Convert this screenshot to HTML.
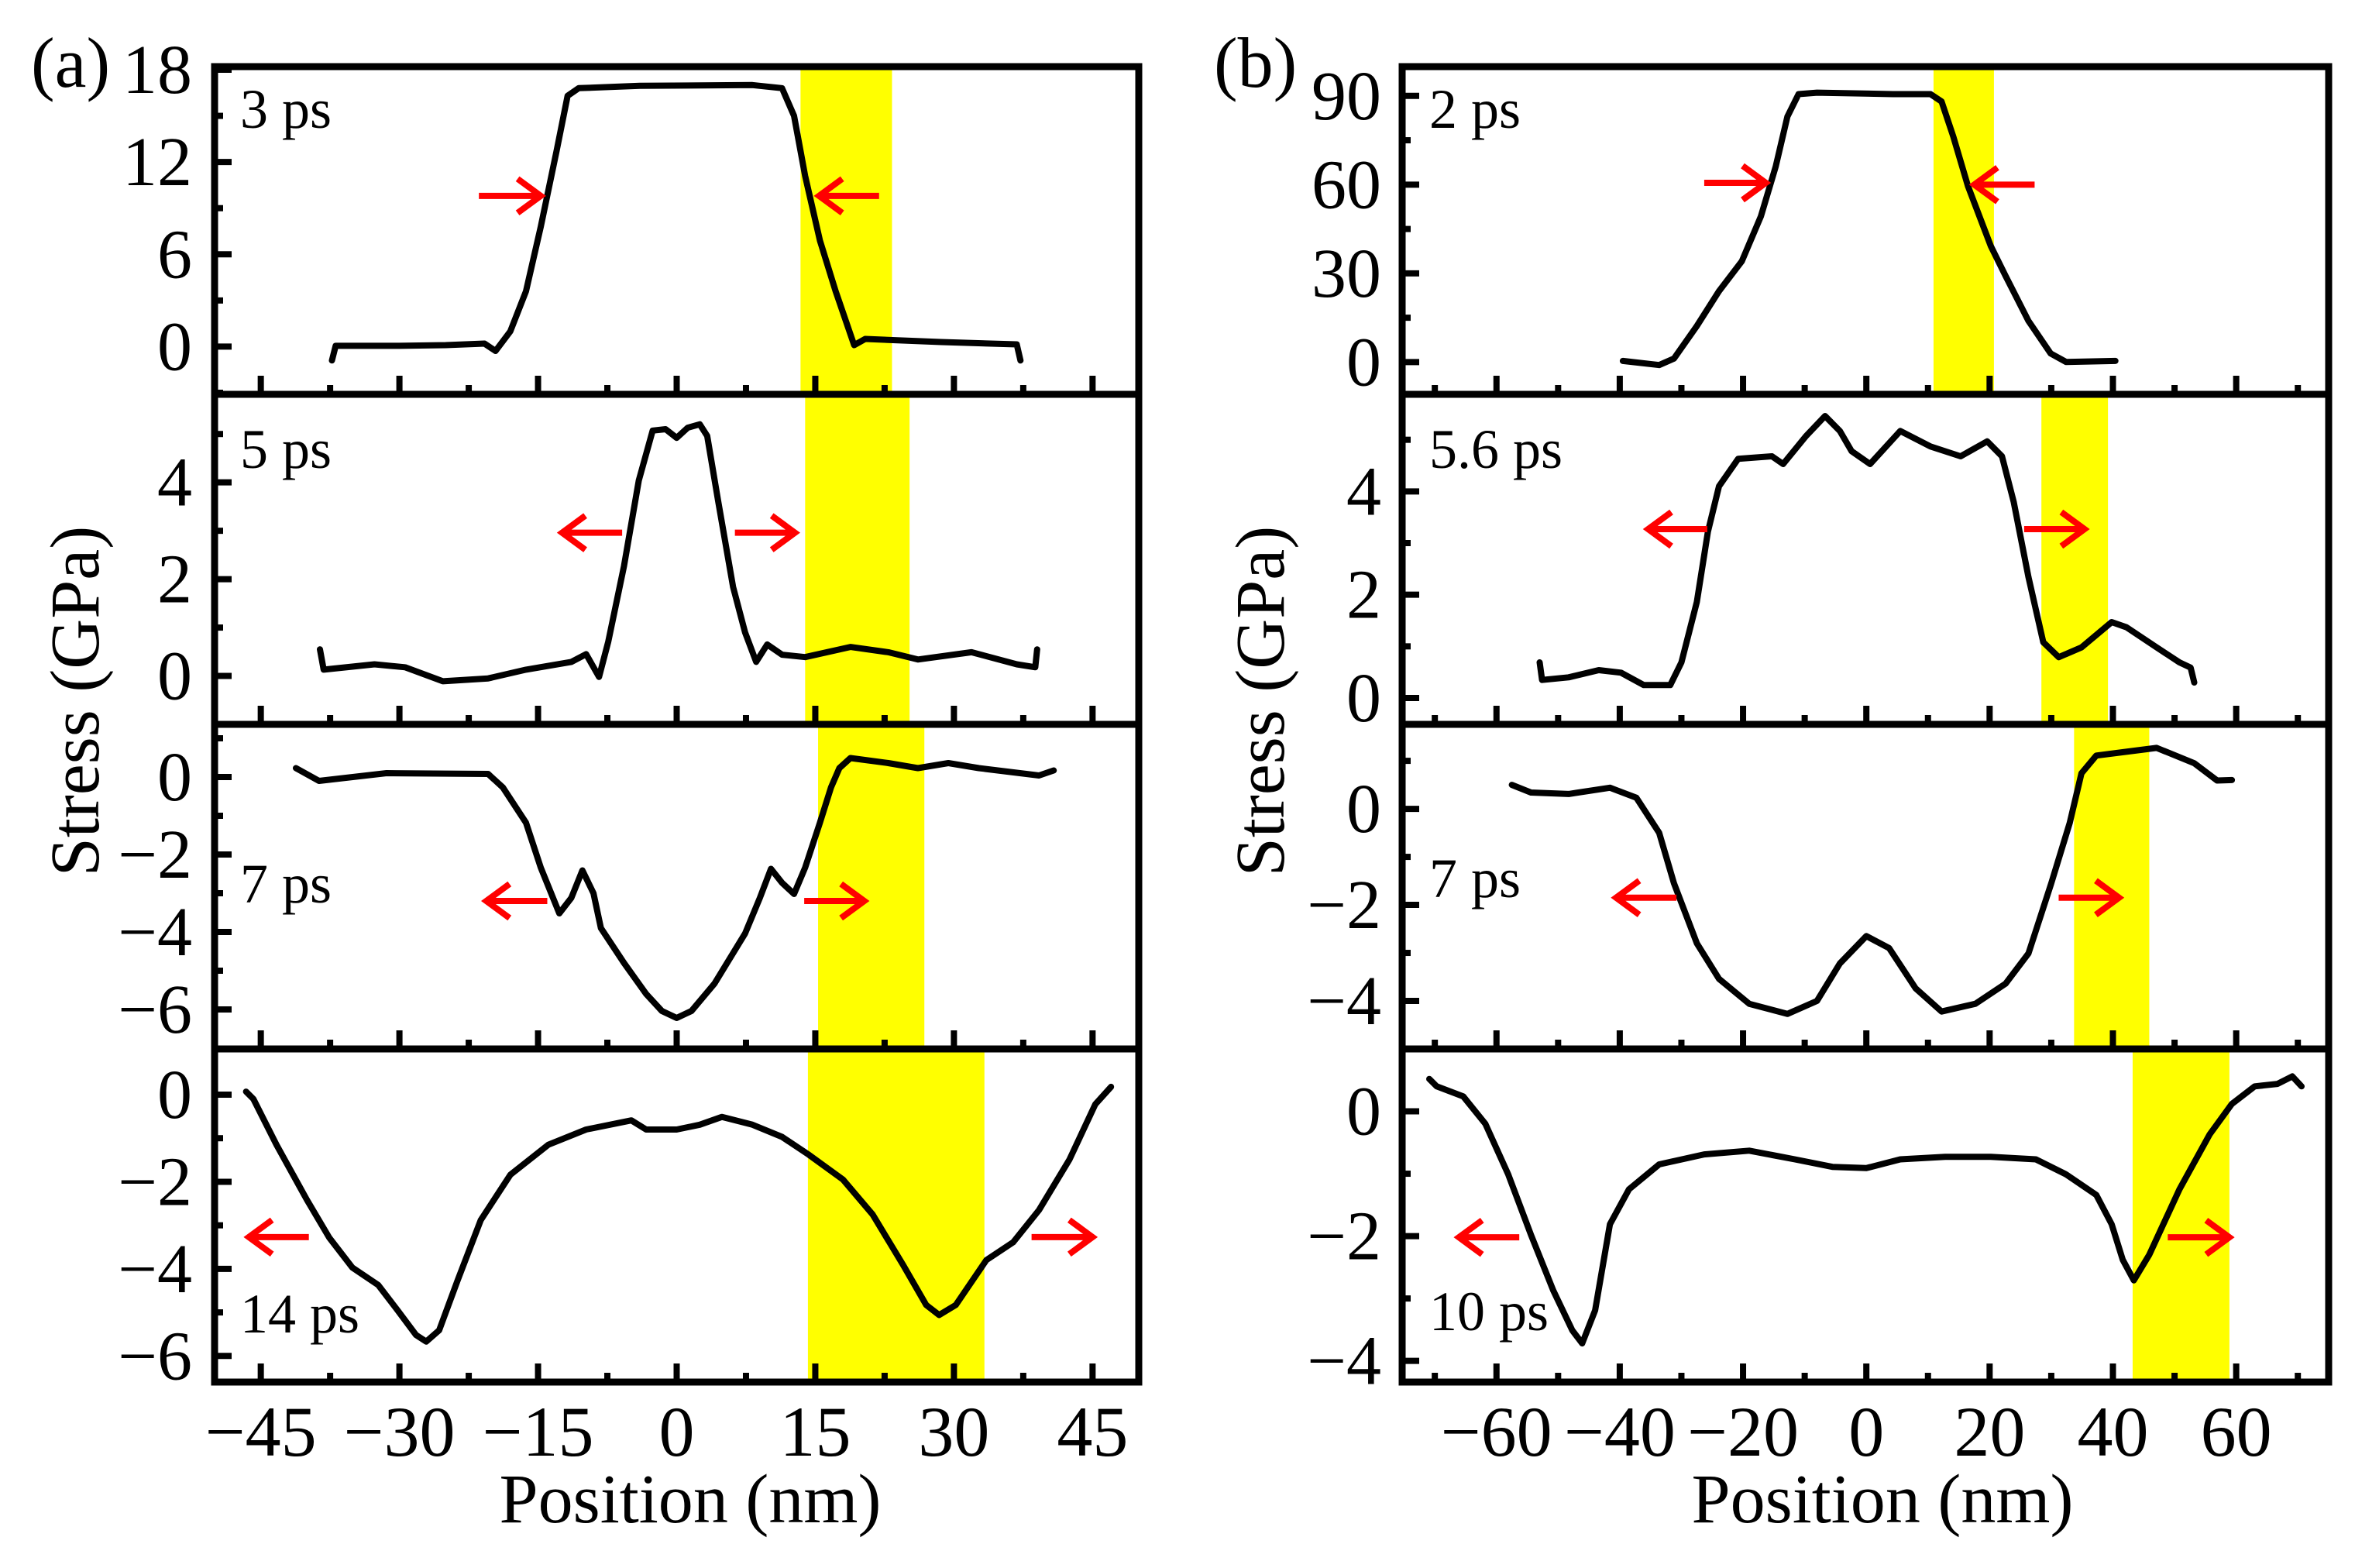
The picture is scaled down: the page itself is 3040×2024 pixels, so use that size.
<!DOCTYPE html>
<html><head><meta charset="utf-8"><style>
html,body{margin:0;padding:0;background:#fff;}
svg{display:block;font-family:"Liberation Serif",serif;}
</style></head><body>
<svg id="fig" width="3040" height="2024" viewBox="0 0 3040 2024" xmlns="http://www.w3.org/2000/svg"></svg>
<script>
// ---------- data (position nm, stress GPa) ----------
const a3x=[-37.3,-36.9,-30,-25,-20.8,-19.6,-18,-16.3,-14.7,-13,-11.8,-10.6,-4,8.2,11.4,12.7,13.9,15.5,17.2,19.2,20.4,28.6,36.8,37.2];
const a3y=[-0.9,0.05,0.05,0.1,0.2,-0.28,1.0,3.6,7.8,12.7,16.3,16.8,16.95,17.0,16.8,15.0,11.1,6.9,3.6,0.1,0.5,0.3,0.15,-0.9];
const a5x=[-38.6,-38.2,-32.7,-29.4,-25.3,-20.4,-16.3,-11.4,-9.8,-8.4,-7.4,-5.7,-4.1,-2.6,-1.2,0,1.2,2.5,3.3,4.5,6.1,7.4,8.6,9.8,11.4,13.9,18.8,22.9,26.1,31.9,36.8,38.8,39];
const a5y=[0.55,0.13,0.24,0.18,-0.11,-0.05,0.13,0.29,0.45,-0.02,0.71,2.27,4.04,5.07,5.1,4.92,5.13,5.2,4.96,3.6,1.84,0.9,0.29,0.65,0.44,0.39,0.6,0.49,0.34,0.49,0.24,0.18,0.55];
const a7x=[-41.2,-38.7,-31.4,-20.4,-18.8,-16.3,-14.7,-12.7,-11.4,-10.2,-9,-8.2,-5.7,-3.3,-1.6,0,1.6,4.1,7.4,9,10.2,11.4,12.7,13.9,15.5,16.7,17.6,18.8,22.9,26.1,29.4,32.7,39.2,40.8];
const a7y=[0.23,-0.1,0.1,0.08,-0.27,-1.18,-2.34,-3.52,-3.12,-2.41,-3.0,-3.9,-4.8,-5.6,-6.04,-6.22,-6.04,-5.33,-4.04,-3.12,-2.37,-2.73,-3.02,-2.34,-1.18,-0.27,0.23,0.49,0.36,0.23,0.36,0.23,0.04,0.17];
const a14x=[-46.6,-45.8,-43.3,-40,-37.6,-35.1,-32.3,-30.2,-28.2,-27.1,-25.7,-23.7,-21.2,-18,-13.9,-9.8,-4.9,-3.3,0,2.5,4.9,8.2,11.4,14.3,18,21.2,24.5,27,28.4,30.2,33.5,36.4,39.2,42.5,45.3,47];
const a14y=[0.07,-0.1,-1.15,-2.42,-3.28,-3.97,-4.37,-4.95,-5.52,-5.67,-5.41,-4.26,-2.88,-1.84,-1.15,-0.8,-0.59,-0.8,-0.8,-0.69,-0.51,-0.69,-0.97,-1.38,-1.95,-2.75,-3.91,-4.83,-5.06,-4.83,-3.8,-3.39,-2.65,-1.49,-0.22,0.18];
const b2x=[-39.5,-33.6,-31.2,-27.5,-23.9,-20.2,-17.1,-14.7,-12.8,-11,-8,4.3,10.4,12.2,14.1,16.5,20.2,22.6,26.3,29.9,32.4,40.4];
const b2y=[0.4,-1.0,1.2,12.2,24,34.1,49.3,66.1,83,90.6,91.1,90.6,90.6,88.1,76.3,59.4,39.2,29.1,13.9,2.9,0.05,0.4];
const b56x=[-53,-52.6,-48.3,-43.4,-39.8,-36.1,-31.8,-30,-27.5,-25.7,-23.9,-20.8,-15.3,-13.5,-9.8,-6.7,-4.3,-2.4,0.6,5.5,10.4,15.3,19.6,22,23.9,26.3,28.7,31.2,34.9,39.8,42.2,47.1,50.8,52.6,53.2];
const b56y=[0.69,0.35,0.4,0.54,0.49,0.25,0.25,0.69,1.86,3.22,4.1,4.63,4.68,4.53,5.07,5.46,5.17,4.78,4.53,5.17,4.87,4.68,4.97,4.68,3.8,2.34,1.08,0.79,0.98,1.47,1.37,0.98,0.69,0.59,0.3];
const b7x=[-57.5,-54.4,-48.3,-41.6,-37.3,-33.6,-31.2,-27.5,-23.9,-19,-12.8,-8,-4.3,0,3.7,8,12.2,17.7,22.6,26.3,30,33,34.9,37.3,43.4,47.1,53.2,56.9,59.3];
const b7y=[0.5,0.34,0.31,0.44,0.23,-0.5,-1.55,-2.8,-3.54,-4.06,-4.27,-4.0,-3.22,-2.65,-2.9,-3.74,-4.22,-4.06,-3.64,-3.01,-1.55,-0.29,0.74,1.11,1.21,1.27,0.95,0.59,0.6];
const b10x=[-70.9,-69.7,-65.4,-61.8,-58.1,-54.4,-50.8,-47.7,-46.1,-44,-41.6,-38.5,-33.6,-26.3,-19,-11.6,-5.5,0,5.5,12.8,20.2,27.5,32.4,37.3,39.8,41.6,43.4,45.9,50.8,55.7,59.3,63,66.7,69.1,70.6];
const b10y=[0.52,0.4,0.24,-0.2,-1.01,-1.98,-2.87,-3.51,-3.72,-3.19,-1.81,-1.25,-0.85,-0.69,-0.63,-0.77,-0.89,-0.91,-0.77,-0.73,-0.73,-0.77,-1.01,-1.34,-1.81,-2.38,-2.71,-2.3,-1.25,-0.37,0.12,0.4,0.44,0.56,0.4];
// highlight bands [start,end] nm
const bandsA=[[13.4,23.3],[13.9,25.2],[15.3,26.8],[14.2,33.3]];
const bandsB=[[10.9,20.7],[28.4,39.2],[33.7,45.9],[43.2,58.9]];
// arrows [x from, x to, y]
const arrowsA=[[[-21.4,-14.7,9.8],[21.9,15.4,9.8]],[[-5.9,-12.4,2.96],[6.3,12.8,2.96]],[[-14,-20.6,-3.2],[13.8,20.3,-3.2]],[[-39.8,-46.3,-3.27],[38.4,45,-3.27]]];
const arrowsB=[[[-26.3,-16.3,60.6],[27.3,17.5,60]],[[-25.8,-35.4,3.27],[25.6,35.4,3.27]],[[-30.8,-40.6,-1.85],[31.2,41,-1.85]],[[-56.3,-66.1,-2.02],[48.9,58.9,-2.02]]];
const timesA=["3 ps","5 ps","7 ps","14 ps"];
const timesB=["2 ps","5.6 ps","7 ps","10 ps"];
const yDomA=[[-3.1,18.2],[-1.0,5.82],[-7.02,1.36],[-6.6,1.05]];
const yDomB=[[-10.9,99.9],[-0.51,5.88],[-5.0,1.76],[-4.34,1.0]];
const yMajA=[[0,6,12,18],[0,2,4],[0,-2,-4,-6],[0,-2,-4,-6]];
const yMinA=[[-3,3,9,15],[1,3,5],[1,-1,-3,-5],[-1,-3,-5]];
const yMajB=[[0,30,60,90],[0,2,4],[0,-2,-4],[0,-2,-4]];
const yMinB=[[15,45,75],[1,3,5],[1,-1,-3],[-1,-3]];
const xMajA=[-45,-30,-15,0,15,30,45];
const xMinA=[-37.5,-22.5,-7.5,7.5,22.5,37.5];
const xMajB=[-60,-40,-20,0,20,40,60];
const xMinB=[-70,-50,-30,-10,10,30,50,70];
const seriesA=[[a3x,a3y],[a5x,a5y],[a7x,a7y],[a14x,a14y]];
const seriesB=[[b2x,b2y],[b56x,b56y],[b7x,b7y],[b10x,b10y]];

const NS="http://www.w3.org/2000/svg";
const svg=document.getElementById('fig');
function mk(tag,attrs,parent){const e=document.createElementNS(NS,tag);for(const k in attrs)e.setAttribute(k,attrs[k]);(parent||svg).appendChild(e);return e;}
const rows=[86,509,935,1354,1784];
function fmt(v){return v<0?"\u2212"+Math.abs(v):String(v);}

function drawPanel(id,L,R,xDom,seriesList,bands,arrows,times,yDoms,yMaj,yMin,xMaj,xMin,tickRight,timeX,timeYoff){
  const sx=v=>L+(v-xDom[0])/(xDom[1]-xDom[0])*(R-L);
  for(let p=0;p<4;p++){
    const T=rows[p],B=rows[p+1],yd=yDoms[p];
    const sy=v=>B-(v-yd[0])/(yd[1]-yd[0])*(B-T);
    const g=mk('g',{});
    
    
    const bd=mk('rect',{x:sx(bands[p][0]),y:T,width:sx(bands[p][1])-sx(bands[p][0]),height:B-T,fill:'#ffff00'},g);
    
    
    const xs=seriesList[p][0],ys=seriesList[p][1];
    let d='';for(let i=0;i<xs.length;i++)d+=(i?'L':'M')+sx(xs[i]).toFixed(1)+','+sy(ys[i]).toFixed(1);
    const ln=mk('path',{d:d,fill:'none',stroke:'#000','stroke-width':8,'stroke-linejoin':'round','stroke-linecap':'round'},g);
    
    
    for(const a of arrows[p]){
      const x1=sx(a[0]),x2=sx(a[1]),y=sy(a[2]),dir=Math.sign(x2-x1);
      const ar=mk('path',{d:`M${x1},${y}L${x2},${y}M${x2-dir*30},${y-22}L${x2},${y}L${x2-dir*30},${y+22}`,fill:'none',stroke:'#ff0000','stroke-width':8},g);
      
      
    }
    for(const v of yMaj[p]){const y=sy(v);
      const t=mk('line',{x1:L,x2:L+22,y1:y,y2:y,stroke:'#000','stroke-width':8},g);
      
      const lb=mk('text',{x:tickRight,y:y+30,'text-anchor':'end','font-size':90},g);lb.textContent=fmt(v);
      }
    for(const v of yMin[p]){const y=sy(v);
      const t=mk('line',{x1:L,x2:L+11,y1:y,y2:y,stroke:'#000','stroke-width':8},g);
      }
    for(const v of xMaj){const x=sx(v);
      const t=mk('line',{x1:x,x2:x,y1:B,y2:B-24,stroke:'#000','stroke-width':8},g);
      
      if(p===3){const lb=mk('text',{x:x,y:1879,'text-anchor':'middle','font-size':92},g);lb.textContent=fmt(v);
        }}
    for(const v of xMin){const x=sx(v);
      const t=mk('line',{x1:x,x2:x,y1:B,y2:B-12,stroke:'#000','stroke-width':8},g);
      }
    const tl=mk('text',{x:timeX,y:timeYoff[p],'font-size':72},g);tl.textContent=times[p];
    
  }
  const fr=mk('rect',{x:L,y:rows[0],width:R-L,height:rows[4]-rows[0],fill:'none',stroke:'#000','stroke-width':9});
  
  for(let p=1;p<4;p++){const dl=mk('line',{x1:L,x2:R,y1:rows[p],y2:rows[p],stroke:'#000','stroke-width':9});
    }
}
drawPanel('panel-a',277,1470,[-50,50],seriesA,bandsA,arrowsA,timesA,yDomA,yMajA,yMinA,xMajA,xMinA,248,310,[165,604,1165,1720]);
drawPanel('panel-b',1810,3006,[-75.3,75],seriesB,bandsB,arrowsB,timesB,yDomB,yMajB,yMinB,xMajB,xMinB,1783,1845,[165,604,1158,1717]);

function txt(s,attrs,name){const e=mk('text',attrs);e.textContent=s;return e;}
txt('(a)',{x:40,y:112,'font-size':92},'panel-a-label');
txt('(b)',{x:1567,y:112,'font-size':92},'panel-b-label');
txt('Position (nm)',{x:891,y:1965,'text-anchor':'middle','font-size':90,textLength:493,lengthAdjust:'spacingAndGlyphs'},'x-axis-title-a');
txt('Position (nm)',{x:2430,y:1965,'text-anchor':'middle','font-size':90,textLength:493,lengthAdjust:'spacingAndGlyphs'},'x-axis-title-b');
txt('Stress (GPa)',{x:0,y:0,'text-anchor':'middle','font-size':90,transform:'translate(127,905) rotate(-90)'},'y-axis-title-a');
txt('Stress (GPa)',{x:0,y:0,'text-anchor':'middle','font-size':90,transform:'translate(1657,905) rotate(-90)'},'y-axis-title-b');
</script>
</body></html>
